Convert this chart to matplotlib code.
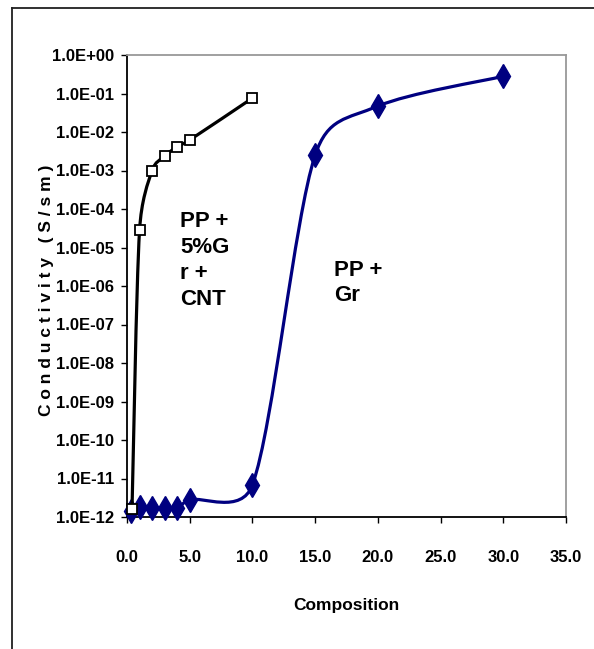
import matplotlib
matplotlib.use("Agg")
import matplotlib.pyplot as plt
import numpy as np
from matplotlib.path import Path
from matplotlib.patches import PathPatch
from matplotlib.lines import Line2D
from matplotlib.ticker import FixedLocator, FuncFormatter

# ====== Data =====
gr_comp = [0.3, 1.0, 2.0, 3.0, 4.0, 5.0, 10.0, 15.0, 20.0, 30.0]
gr_cond = [1.4e-12, 1.8e-12, 1.7e-12, 1.7e-12, 1.7e-12, 2.8e-12, 6.8e-12, 2.5e-3, 4.7e-2, 2.8e-1]

cnt_comp = [0.4, 1.0, 2.0, 3.0, 4.0, 5.0, 10.0]
cnt_cond = [1.6e-12, 2.8e-5, 1.0e-3, 2.4e-3, 4.1e-3, 6.2e-3, 7.6e-2]

x_ticks = [0, 5, 10, 15, 20, 25, 30, 35]
y_ticks = [10.0 ** e for e in range(-12, 1)]

FONT = "Liberation Sans"

fig = plt.figure(figsize=(5.94, 6.49), dpi=100)
ax = fig.add_axes([127 / 594, 1 - 517 / 649, 439 / 594, 462 / 649])
ax.set_yscale("log")
ax.set_xlim(0, 35)
ax.set_ylim(1e-12, 1.0)

# pixel scale of the axes, so the smoothing is done in screen space like Excel
bb = ax.get_window_extent()
sx = bb.width / 35.0
sy = bb.height / 12.0


def smooth_path(xs, ys, cap=0.5):
    # Excel style smoothed line: Bezier with Catmull-Rom tangents,
    # tangent length limited by the adjoining segment
    pts = np.column_stack([np.array(xs) * sx, np.log10(ys) * sy])
    n = len(pts)
    verts = [pts[0]]
    codes = [Path.MOVETO]
    for i in range(n - 1):
        seg = np.linalg.norm(pts[i + 1] - pts[i])
        p_prev = pts[i - 1] if i > 0 else pts[i]
        p_next2 = pts[i + 2] if i + 2 < n else pts[i + 1]
        t1 = (pts[i + 1] - p_prev) / 6.0
        t2 = (p_next2 - pts[i]) / 6.0
        for t in (t1, t2):
            ln = np.linalg.norm(t)
            if ln > cap * seg:
                t *= cap * seg / ln
        verts += [pts[i] + t1, pts[i + 1] - t2, pts[i + 1]]
        codes += [Path.CURVE4] * 3
    verts = np.array(verts)
    verts[:, 0] = verts[:, 0] / sx
    verts[:, 1] = 10.0 ** (verts[:, 1] / sy)
    return Path(verts, codes)


navy = "#000080"
ax.add_patch(PathPatch(smooth_path(gr_comp, gr_cond), fill=False, edgecolor=navy,
                       linewidth=2.3, transform=ax.transData, zorder=2, capstyle="round"))
ax.plot(gr_comp, gr_cond, linestyle="none", marker="d", markersize=12.5,
        color=navy, markeredgecolor=navy, zorder=3, clip_on=False)

ax.add_patch(PathPatch(smooth_path(cnt_comp, cnt_cond), fill=False, edgecolor="black",
                       linewidth=2.3, transform=ax.transData, zorder=4, capstyle="round"))
ax.plot(cnt_comp, cnt_cond, linestyle="none", marker="s", markersize=6.5,
        markerfacecolor="white", markeredgecolor="black", markeredgewidth=1.3,
        zorder=5, clip_on=False)

ax.xaxis.set_major_locator(FixedLocator(x_ticks))
ax.xaxis.set_major_formatter(FuncFormatter(lambda v, p: f"{v:.1f}"))
ax.yaxis.set_major_locator(FixedLocator(y_ticks))
ax.yaxis.set_minor_locator(FixedLocator([]))


def sci(v, p):
    e = int(round(np.log10(v)))
    sign = "+" if e >= 0 else "-"
    return f"1.0E{sign}{abs(e):02d}"


ax.yaxis.set_major_formatter(FuncFormatter(sci))
ax.tick_params(axis="both", direction="out", length=4.5, width=1.0, color="black",
               labelsize=12, pad=5)
ax.tick_params(axis="x", pad=19)
for lab in ax.get_xticklabels() + ax.get_yticklabels():
    lab.set_fontfamily(FONT)
    lab.set_fontweight("bold")

for side in ["left", "bottom"]:
    ax.spines[side].set_color("black")
    ax.spines[side].set_linewidth(1.3)
for side in ["top", "right"]:
    ax.spines[side].set_color("#999999")
    ax.spines[side].set_linewidth(1.3)

ax.set_xlabel("Composition", fontsize=12.5, fontweight="bold", family=FONT, labelpad=24)
ax.text(-0.1845, 0.491, "C o n d u c t i v i t y   ( S / s m )", transform=ax.transAxes,
        rotation=90, ha="center", va="center", fontsize=12.5, fontweight="bold", family=FONT)

ax.text(0.121, 0.662, "PP +\n5%G\nr +\nCNT", transform=ax.transAxes, fontsize=16,
        fontweight="bold", family=FONT, va="top", ha="left", linespacing=1.3)
ax.text(0.472, 0.557, "PP +\nGr", transform=ax.transAxes, fontsize=16,
        fontweight="bold", family=FONT, va="top", ha="left", linespacing=1.3)

# outer chart frame (top and left edges visible)
fig.add_artist(Line2D([12 / 594, 1.0], [1 - 8 / 649, 1 - 8 / 649], color="#202020",
                      linewidth=1.3, transform=fig.transFigure))
fig.add_artist(Line2D([12 / 594, 12 / 594], [0.0, 1 - 8 / 649], color="#202020",
                      linewidth=1.3, transform=fig.transFigure))

fig.savefig("out.png", dpi=100)
